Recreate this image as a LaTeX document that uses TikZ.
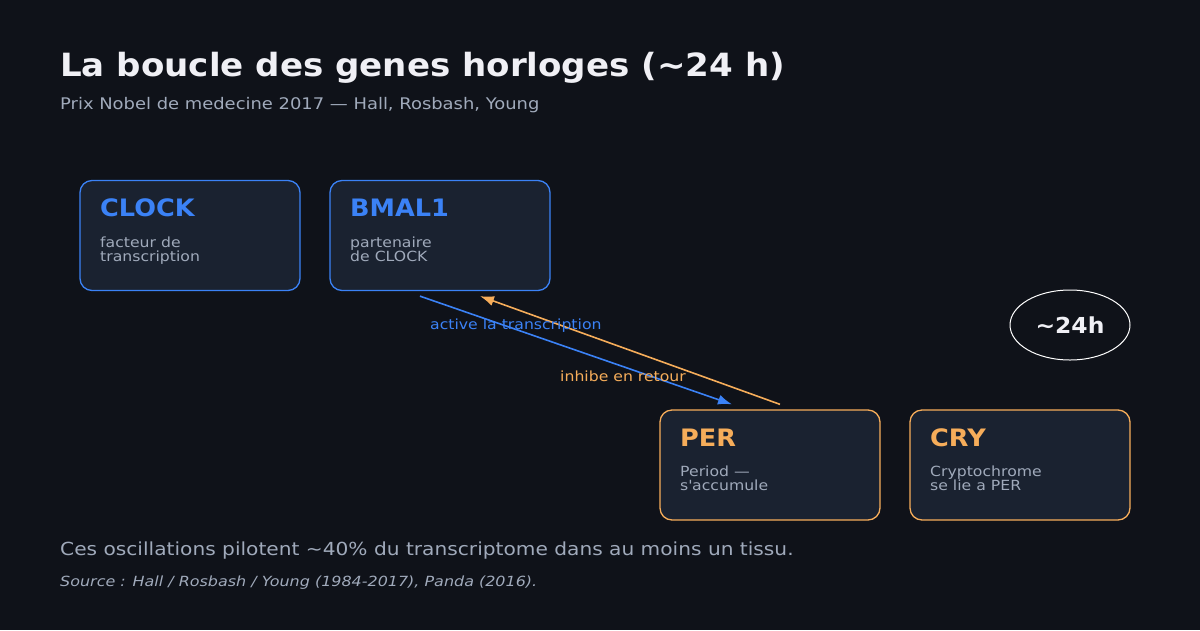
\documentclass[tikz,border=0pt]{standalone}
\usepackage{fontspec}
\setmainfont{DejaVu Sans}[FakeStretch=1.12, BoldFeatures={FakeStretch=1.065},
  ItalicFeatures={FakeStretch=1.14}]
\usetikzlibrary{arrows.meta,shapes.geometric}
\definecolor{bgdark}{HTML}{0F1219}
\definecolor{boxfill}{HTML}{1A2230}
\definecolor{genblue}{HTML}{3B82F6}
\definecolor{genorange}{HTML}{F6AD5A}
\definecolor{txtgray}{HTML}{A0AABB}
\definecolor{txtwhite}{HTML}{F0F0F5}
\tikzset{
  genbox/.style={draw=#1, fill=boxfill, line width=1.3pt, rounded corners=12pt,
    minimum width=220pt, minimum height=110pt, inner sep=0pt},
  genname/.style={anchor=base west, inner sep=0pt, text=#1,
    font=\fontsize{24}{28}\selectfont\bfseries},
  gendesc/.style={anchor=north west, inner sep=0pt, text=txtgray, align=left,
    font=\fontsize{14}{14}\selectfont},
  looplabel/.style={anchor=west, inner sep=0pt, text=#1, font=\fontsize{14}{16}\selectfont}
}
\begin{document}
\begin{tikzpicture}[x=1pt,y=-1pt]
  \fill[bgdark] (0,0) rectangle (1200,630);
  % titre
  \node[anchor=base west, inner sep=0pt, text=txtwhite, font=\fontsize{32}{38}\selectfont\bfseries]
    (title) at (60,76) {La boucle des genes horloges (\textasciitilde24 h)};
  \node[anchor=base west, inner sep=0pt, text=txtgray, font=\fontsize{16}{19}\selectfont]
    (subtitle) at (60,109) {Prix Nobel de medecine 2017 --- Hall, Rosbash, Young};
  % genes
  \node[genbox=genblue] (clock) at (190,235.5) {};
  \node[genname=genblue] (clockname) at (100,216.5) {CLOCK};
  \node[gendesc] (clockdesc) at (100,236.5) {facteur de\\transcription};
  \node[genbox=genblue] (bmal) at (440,235.5) {};
  \node[genname=genblue] (bmalname) at (350,216.5) {BMAL1};
  \node[gendesc] (bmaldesc) at (350,236.5) {partenaire\\de CLOCK};
  \node[genbox=genorange] (per) at (770,465) {};
  \node[genname=genorange] (pername) at (680,446) {PER};
  \node[gendesc] (perdesc) at (680,466) {Period ---\\s\textquotesingle accumule};
  \node[genbox=genorange] (cry) at (1020,465) {};
  \node[genname=genorange] (cryname) at (930,446) {CRY};
  \node[gendesc] (crydesc) at (930,466) {Cryptochrome\\se lie a PER};
  % cycle
  \node[draw=white, line width=1pt, ellipse, minimum width=120pt, minimum height=70pt,
    inner sep=0pt, text=txtwhite, font=\fontsize{22}{26}\selectfont\bfseries]
    (period) at (1070,325) {\textasciitilde24h};
  % fleches
  \coordinate (actfrom) at ([shift={(-20pt,-5pt)}]bmal.south);
  \coordinate (actto) at ([shift={(-38pt,5pt)}]per.north);
  \coordinate (inhfrom) at ([shift={(10pt,5pt)}]per.north);
  \coordinate (inhto) at ([shift={(40pt,-5pt)}]bmal.south);
  \draw[genblue, line width=1.6pt, -{Latex[length=14pt,width=10pt]}] (actfrom) -- (actto);
  \draw[genorange, line width=1.6pt, -{Latex[length=14pt,width=10pt]}] (inhfrom) -- (inhto);
  \node[looplabel=genblue] (actlabel) at (430,326) {active la transcription};
  \node[looplabel=genorange] (inhlabel) at (560,376) {inhibe en retour};
  % bas
  \node[anchor=base west, inner sep=0pt, text=txtgray, font=\fontsize{18}{22}\selectfont]
    (note) at (60,555) {Ces oscillations pilotent \textasciitilde40\% du transcriptome dans au moins un tissu.};
  \node[anchor=base west, inner sep=0pt, text=txtgray, font=\fontsize{14}{17}\selectfont\itshape]
    (source) at (60,586) {Source : Hall / Rosbash / Young (1984-2017), Panda (2016).};
\end{tikzpicture}
\end{document}
